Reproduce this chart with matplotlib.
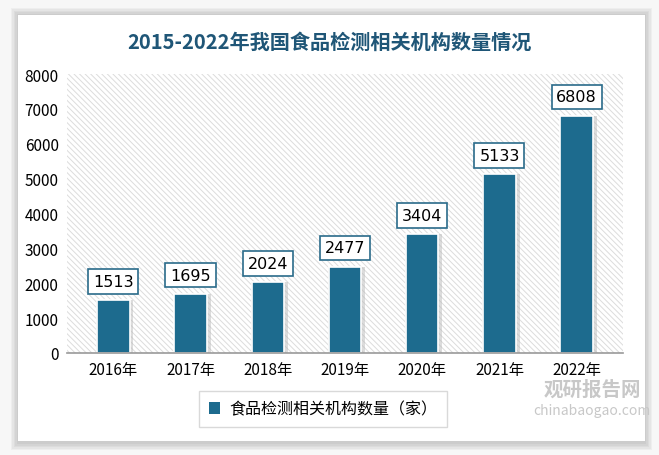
import matplotlib.pyplot as plt
from matplotlib.patches import Rectangle

plt.rcParams['font.family'] = ['Noto Sans CJK SC', 'DejaVu Sans']
plt.rcParams['hatch.linewidth'] = 0.7

years = ['2016年', '2017年', '2018年', '2019年', '2020年', '2021年', '2022年']
counts = [1513, 1695, 2024, 2477, 3404, 5133, 6808]
series_name = '食品检测相关机构数量（家）'
title = '2015-2022年我国食品检测相关机构数量情况'

bar_color = '#1d6b8e'

fig = plt.figure(figsize=(6.59, 4.56), dpi=100)
fig.patch.set_facecolor('#f7f7f7')

# card with soft shadow
for i in range(5):
    pad = 7 - i * 1.4
    fig.patches.append(Rectangle(((18 - pad) / 659, (12 - pad) / 456),
                                 (627 + 2 * pad) / 659, (428 + 2 * pad) / 456,
                                 transform=fig.transFigure, facecolor='black',
                                 alpha=0.035, edgecolor='none', zorder=-3))
fig.patches.append(Rectangle((18 / 659, 14 / 456), 627 / 659, 426 / 456,
                             transform=fig.transFigure, facecolor='white',
                             edgecolor='none', zorder=-2))

fig.text(0.5, 1 - 42 / 456, title, ha='center', va='center', fontsize=14.5,
         fontweight='bold', color='#1f5677')

ax = fig.add_axes([67 / 659, 1 - 354 / 456, 556 / 659, 279 / 456])
ax.set_zorder(1)
ax.set_facecolor('none')
ax.add_patch(Rectangle((0, 0), 1, 1, transform=ax.transAxes, facecolor='white',
                       edgecolor='#dcdcdc', hatch='\\\\\\\\\\\\', linewidth=0, zorder=0))

x = list(range(len(years)))
# bar shadow
ax.bar([i + 0.02 for i in x], counts, width=0.48, color='#bbbbbb', alpha=0.5, zorder=1)
bars = ax.bar(x, counts, width=0.42, color=bar_color, edgecolor='white', linewidth=1.2,
              zorder=2, label=series_name)

for xi, v in zip(x, counts):
    ax.annotate(str(v), (xi, v), xytext=(0, 13.5), textcoords='offset points',
                ha='center', va='center', fontsize=11.5, color='black',
                family=['DejaVu Sans'],
                bbox=dict(boxstyle='square,pad=0.3', facecolor='white',
                          edgecolor='#2a6b8a', linewidth=1.2), zorder=3)

ax.set_xlim(-0.6, 6.6)
ax.set_ylim(0, 8000)
ax.set_yticks(range(0, 8001, 1000))
ax.set_xticks(x)
ax.set_xticklabels(years)
ax.tick_params(axis='both', length=0, labelsize=11, colors='black')
ax.tick_params(axis='x', pad=6)
ax.tick_params(axis='y', pad=6)
for s in ['top', 'right', 'left']:
    ax.spines[s].set_visible(False)
ax.spines['bottom'].set_color('#999999')
ax.spines['bottom'].set_linewidth(1.2)

leg = fig.legend(handles=[bars], labels=[series_name], loc='center',
                 bbox_to_anchor=(323 / 659, 1 - 410 / 456), fontsize=11.5,
                 frameon=True, fancybox=False, edgecolor='#d0d0d0',
                 handlelength=0.7, handleheight=0.7, borderpad=0.6,
                 handletextpad=0.6, borderaxespad=0)
leg.get_frame().set_linewidth(1)
for h in leg.legend_handles:
    h.set_edgecolor('none')

fig.text(592 / 659, 1 - 390 / 456, '观研报告网', ha='center', va='center',
         fontsize=14, fontweight='bold', color='#c8c8c8')
fig.text(592 / 659, 1 - 411 / 456, 'chinabaogao.com', ha='center', va='center',
         fontsize=10, color='#c8c8c8')

fig.savefig('out.png', dpi=100)
